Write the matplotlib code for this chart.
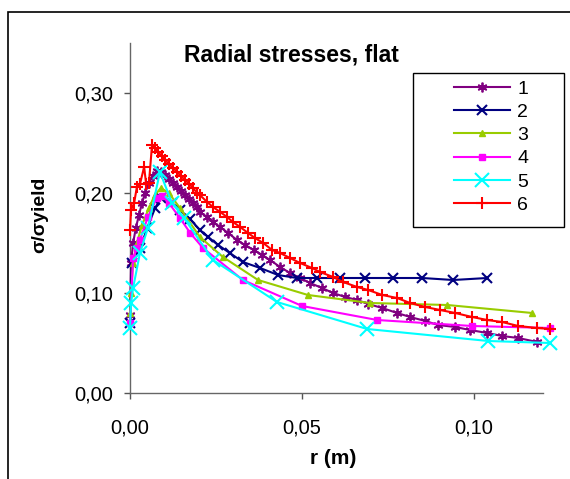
import numpy as np
import matplotlib
matplotlib.use("Agg")
import matplotlib.pyplot as plt
from matplotlib.patches import Rectangle
from matplotlib.ticker import FuncFormatter, MultipleLocator

plt.rcParams['font.family'] = ['Liberation Sans', 'DejaVu Sans']

# series 1 (purple stars)
x1 = [0.0, 0.0003, 0.0009, 0.0017, 0.0026, 0.0035, 0.0044, 0.0055, 0.0067, 0.0078,
      0.009, 0.0102, 0.0113, 0.0125, 0.0137, 0.0148, 0.016, 0.0172, 0.0183, 0.0195,
      0.0203, 0.0224, 0.0241, 0.0262, 0.0285, 0.0311, 0.0334, 0.036, 0.0384, 0.0407,
      0.0436, 0.0465, 0.0494, 0.0523, 0.0558, 0.059, 0.0625, 0.066, 0.0692, 0.0733,
      0.0776, 0.0814, 0.0858, 0.0895, 0.0945, 0.0988, 0.1038, 0.1081, 0.1128, 0.1183]
y1 = [0.078, 0.13, 0.15, 0.165, 0.178, 0.19, 0.2, 0.21, 0.217, 0.222,
      0.221, 0.218, 0.214, 0.21, 0.206, 0.202, 0.198, 0.194, 0.19, 0.186,
      0.181, 0.176, 0.171, 0.166, 0.16, 0.153, 0.148, 0.143, 0.138, 0.133,
      0.126, 0.12, 0.115, 0.11, 0.105, 0.1, 0.096, 0.093, 0.089, 0.085,
      0.08, 0.076, 0.072, 0.068, 0.066, 0.063, 0.06, 0.057, 0.055, 0.051]

# series 2 (navy x)
x2 = [0.0, 0.0005, 0.003, 0.005, 0.0073, 0.009, 0.0122, 0.0145, 0.0174, 0.0203,
      0.0227, 0.0256, 0.029, 0.0328, 0.0378, 0.043, 0.0485, 0.0544, 0.061, 0.0683,
      0.0765, 0.0849, 0.0939, 0.1038]
y2 = [0.07, 0.13, 0.145, 0.165, 0.185, 0.195, 0.19, 0.183, 0.174, 0.163,
      0.156, 0.148, 0.14, 0.131, 0.125, 0.118, 0.115, 0.115, 0.115, 0.115,
      0.115, 0.115, 0.113, 0.115]

# series 3 (green triangles)
x3 = [0.0, 0.0003, 0.0009, 0.002, 0.0035, 0.0055, 0.0072, 0.009, 0.0113, 0.0145,
      0.0203, 0.027, 0.0372, 0.0517, 0.0698, 0.0922, 0.1169]
y3 = [0.08, 0.1, 0.13, 0.15, 0.168, 0.185, 0.198, 0.205, 0.2, 0.185,
      0.156, 0.136, 0.113, 0.098, 0.09, 0.088, 0.08]

# series 4 (magenta squares)
x4 = [0.0, 0.0009, 0.002, 0.0029, 0.0052, 0.0078, 0.0093, 0.0113, 0.0145, 0.0175,
      0.0212, 0.0328, 0.05, 0.0718, 0.0994, 0.1221]
y4 = [0.07, 0.135, 0.145, 0.153, 0.176, 0.195, 0.197, 0.19, 0.175, 0.16,
      0.145, 0.113, 0.087, 0.073, 0.067, 0.065]

# series 5 (cyan big x)
x5 = [0.0, 0.0003, 0.0009, 0.0029, 0.0052, 0.0087, 0.0122, 0.0157, 0.0241, 0.0427,
      0.0689, 0.1041, 0.1221]
y5 = [0.065, 0.09, 0.105, 0.14, 0.165, 0.221, 0.19, 0.175, 0.133, 0.091,
      0.064, 0.052, 0.05]

# series 6 (red plus)
x6 = [0.0, 0.0003, 0.0012, 0.002, 0.0029, 0.0041, 0.0047, 0.0055, 0.0064,
      0.0073, 0.0081, 0.0093, 0.0102, 0.0113, 0.0125, 0.0137, 0.0148, 0.016, 0.0172,
      0.0183, 0.0195, 0.0203, 0.0224, 0.0241, 0.0262, 0.0282, 0.0299, 0.032, 0.0343,
      0.0363, 0.0387, 0.0413, 0.0436, 0.0465, 0.0494, 0.0529, 0.0552, 0.059, 0.0619,
      0.066, 0.0692, 0.0733, 0.0776, 0.0814, 0.0858, 0.0901, 0.0945, 0.0994, 0.1038,
      0.1081, 0.1128, 0.1183, 0.1221]
y6 = [0.163, 0.183, 0.19, 0.206, 0.209, 0.226, 0.209, 0.21, 0.248,
      0.245, 0.241, 0.237, 0.233, 0.229, 0.225, 0.221, 0.217, 0.213, 0.209,
      0.205, 0.2, 0.198, 0.191, 0.186, 0.181, 0.176, 0.171, 0.166, 0.16,
      0.155, 0.15, 0.143, 0.14, 0.135, 0.13, 0.125, 0.121, 0.116, 0.111,
      0.106, 0.103, 0.098, 0.095, 0.09, 0.086, 0.083, 0.08, 0.076, 0.073,
      0.071, 0.067, 0.065, 0.064]

labels = ['1', '2', '3', '4', '5', '6']

W, H = 570, 479
fig = plt.figure(figsize=(W / 100, H / 100), dpi=100)
ax = fig.add_axes([130 / W, 1 - 393 / H, (543 - 130) / W, (393 - 43) / H])

lw = 1.5
ax.plot(x1, y1, color='#800080', lw=lw, marker=(6, 2, 0), ms=7, mew=1.3, label=labels[0], clip_on=False, zorder=3)
ax.plot(x2, y2, color='#000080', lw=lw, marker='x', ms=7, mew=1.5, label=labels[1], clip_on=False, zorder=3)
ax.plot(x3, y3, color='#99CC00', lw=lw, marker='^', ms=4, label=labels[2], clip_on=False, zorder=3)
ax.plot(x4, y4, color='#FF00FF', lw=lw, marker='s', ms=4, label=labels[3], clip_on=False, zorder=3)
ax.plot(x5, y5, color='#00FFFF', lw=lw, marker='x', ms=10, mew=1.5, label=labels[4], clip_on=False, zorder=3)
ax.plot(x6, y6, color='#FF0000', lw=lw, marker='+', ms=8, mew=1.5, label=labels[5], clip_on=False, zorder=4)

ax.set_xlim(0, 0.12)
ax.set_ylim(0, 0.35)
ax.xaxis.set_major_locator(MultipleLocator(0.05))
ax.yaxis.set_major_locator(MultipleLocator(0.10))
fmt = FuncFormatter(lambda v, p: ('%.2f' % v).replace('.', ','))
ax.xaxis.set_major_formatter(fmt)
ax.yaxis.set_major_formatter(fmt)
ax.tick_params(labelsize=14.5, length=4, width=1, color='#555555')
ax.tick_params(axis='y', pad=8)
ax.tick_params(axis='x', pad=14)
for s in ['top', 'right']:
    ax.spines[s].set_visible(False)
for s in ['left', 'bottom']:
    ax.spines[s].set_color('#666666')
    ax.spines[s].set_linewidth(1)

fig.text(291 / W, 1 - 55 / H, 'Radial stresses, flat', ha='center', va='center',
         fontsize=16.5, fontweight='bold')
fig.text(333 / W, 1 - 458 / H, 'r (m)', ha='center', va='center',
         fontsize=15, fontweight='bold')
fig.text(40 / W, 1 - 215 / H, 'σ/σyield', ha='center', va='center',
         fontsize=14, fontweight='bold', rotation=90)

# legend
leg = fig.legend(loc='upper left', bbox_to_anchor=(454 / W, 1 - 80 / H),
                 frameon=False, fontsize=14, handlelength=2.9, handletextpad=0.35,
                 labelspacing=0.29, borderpad=0, borderaxespad=0)
fig.add_artist(Rectangle((413 / W, 1 - 227 / H), (564 - 413) / W, (227 - 73) / H,
                         transform=fig.transFigure, fill=False, ec='black', lw=1))

# chart border
fig.add_artist(Rectangle((8 / W, -0.1), 1.2, 1.1 - 12 / H + 0.0,
                         transform=fig.transFigure, fill=False, ec='black', lw=1.2))

fig.savefig('out.png', dpi=100)
